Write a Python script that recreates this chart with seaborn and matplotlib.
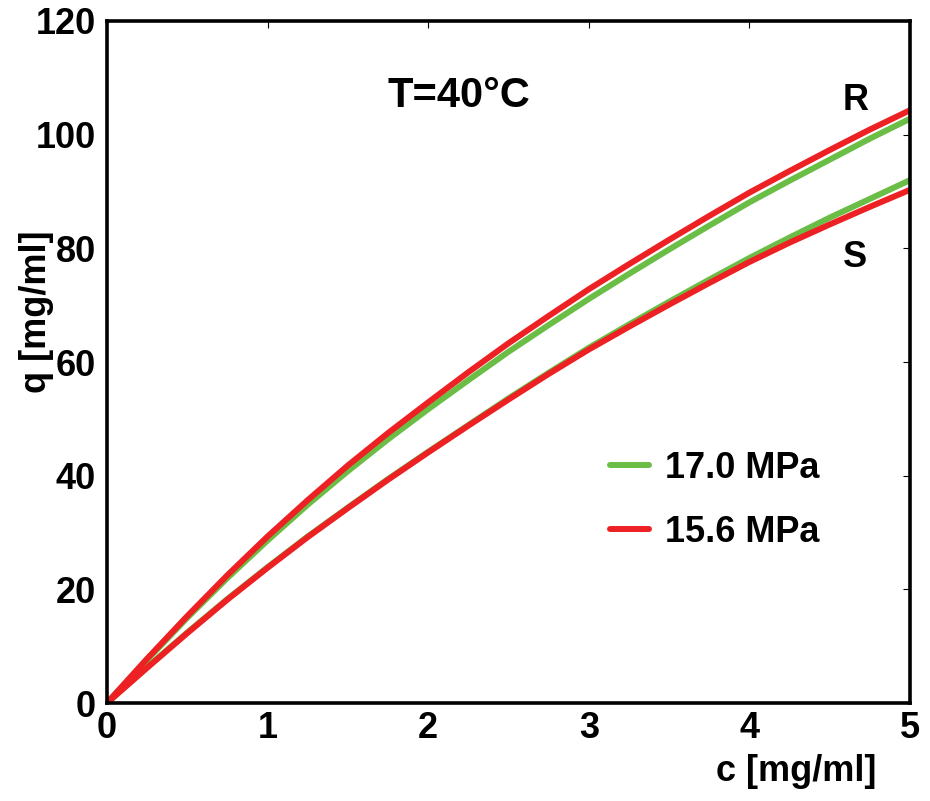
import numpy as np
import pandas as pd
import seaborn as sns
import matplotlib
matplotlib.use("Agg")
import matplotlib.pyplot as plt

# concentration c [mg/ml]
c = [0.0, 0.25, 0.5, 0.75, 1.0, 1.25, 1.5, 1.75, 2.0, 2.25, 2.5,
     2.75, 3.0, 3.25, 3.5, 3.75, 4.0, 4.25, 4.5, 4.75, 5.0]

# q [mg/ml]
q_R_170 = [0.0, 7.6, 15.0, 22.0, 28.6, 34.9, 40.8, 46.4, 51.7, 56.8, 61.8,
           66.5, 71.1, 75.5, 79.8, 84.0, 88.1, 91.9, 95.6, 99.3, 102.8]
q_R_156 = [0.0, 7.8, 15.3, 22.5, 29.3, 35.7, 41.8, 47.5, 52.9, 58.2, 63.3,
           68.1, 72.8, 77.2, 81.5, 85.7, 89.8, 93.6, 97.3, 100.9, 104.3]
q_S_170 = [0.0, 6.3, 12.4, 18.3, 23.9, 29.3, 34.4, 39.4, 44.2, 48.9, 53.6,
           58.1, 62.5, 66.6, 70.6, 74.5, 78.3, 81.9, 85.4, 88.7, 92.0]
q_S_156 = [0.0, 6.2, 12.3, 18.2, 23.8, 29.2, 34.3, 39.3, 44.1, 48.8, 53.4,
           57.9, 62.2, 66.2, 70.1, 73.9, 77.6, 81.0, 84.2, 87.3, 90.3]

pressures = ["17.0 MPa", "15.6 MPa"]
colors = {"17.0 MPa": "#6abd45", "15.6 MPa": "#ed2124"}

rows = []
for p, iso, q in [("17.0 MPa", "R", q_R_170), ("17.0 MPa", "S", q_S_170),
                  ("15.6 MPa", "R", q_R_156), ("15.6 MPa", "S", q_S_156)]:
    for ci, qi in zip(c, q):
        rows.append({"c": ci, "q": qi, "pressure": p, "isomer": iso})
df = pd.DataFrame(rows)

sns.set_style("white")
plt.rcParams['font.family'] = ['Liberation Sans', 'DejaVu Sans']
plt.rcParams['font.weight'] = 'bold'
plt.rcParams['text.color'] = 'black'
plt.rcParams['axes.labelcolor'] = 'black'
plt.rcParams['xtick.color'] = 'black'
plt.rcParams['ytick.color'] = 'black'

fig = plt.figure(figsize=(9.3, 8.01), dpi=100)
ax = fig.add_axes([0.115, 0.1223, 0.8635, 0.8515])

sns.lineplot(data=df, x="c", y="q", hue="pressure", hue_order=pressures,
             units="isomer", estimator=None, palette=colors, lw=4.3,
             sort=False, ax=ax)

ax.set_xlim(0, 5)
ax.set_ylim(0, 120)
ax.set_xticks([0, 1, 2, 3, 4, 5])
ax.set_yticks([0, 20, 40, 60, 80, 100, 120])
ax.tick_params(direction='in', top=True, right=True, length=5, width=0.8,
               labelsize=26)
ax.tick_params(axis='x', pad=6)
ax.tick_params(axis='y', pad=8)
for lab in ax.get_xticklabels() + ax.get_yticklabels():
    lab.set_fontweight('bold')
for s in ax.spines.values():
    s.set_linewidth(2.6)
    s.set_color('black')

ax.set_xlabel("c [mg/ml]", fontsize=26, fontweight='bold')
ax.xaxis.set_label_coords(0.858, -0.075)
ax.set_ylabel("q [mg/ml]", fontsize=26, fontweight='bold')
ax.yaxis.set_label_coords(-0.066, 0.573)

ax.text(2.19, 106.8, "T=40°C", fontsize=30, fontweight='bold',
        ha='center', va='center')
ax.text(4.66, 106.0, "R", fontsize=26, fontweight='bold', ha='center', va='center')
ax.text(4.66, 78.3, "S", fontsize=26, fontweight='bold', ha='center', va='center')

handles, labels = ax.get_legend_handles_labels()
ax.legend(handles, labels, loc='center left', bbox_to_anchor=(0.626, 0.297),
          frameon=False, handlelength=1.08, handletextpad=0.44,
          labelspacing=0.8, borderpad=0, borderaxespad=0,
          prop={'weight': 'bold', 'size': 26})

fig.savefig("out.png", dpi=100)
